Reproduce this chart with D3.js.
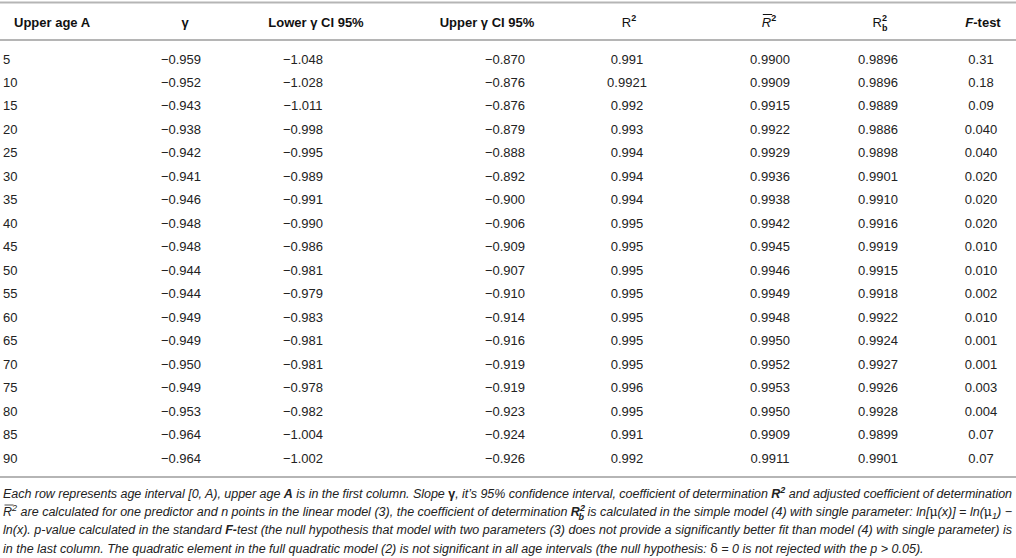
<!DOCTYPE html>
<html>
<head>
<meta charset="utf-8">
<script src="https://cdn.jsdelivr.net/npm/d3@7"></script>
<style>
    html, body { margin: 0; padding: 0; background: #fff; }
    svg { display: block; font-family: "Liberation Sans", Arial, sans-serif; }
</style>
</head>
<body>
<script>
// table values
const ages = [5, 10, 15, 20, 25, 30, 35, 40, 45, 50, 55, 60, 65, 70, 75, 80, 85, 90];
const gamma = [-0.959, -0.952, -0.943, -0.938, -0.942, -0.941, -0.946, -0.948, -0.948,
               -0.944, -0.944, -0.949, -0.949, -0.950, -0.949, -0.953, -0.964, -0.964];
const lowerCI = [-1.048, -1.028, -1.011, -0.998, -0.995, -0.989, -0.991, -0.990, -0.986,
                 -0.981, -0.979, -0.983, -0.981, -0.981, -0.978, -0.982, -1.004, -1.002];
const upperCI = [-0.870, -0.876, -0.876, -0.879, -0.888, -0.892, -0.900, -0.906, -0.909,
                 -0.907, -0.910, -0.914, -0.916, -0.919, -0.919, -0.923, -0.924, -0.926];
// printed with mixed precision, so kept as printed
const r2 = ['0.991', '0.9921', '0.992', '0.993', '0.994', '0.994', '0.994', '0.995', '0.995',
            '0.995', '0.995', '0.995', '0.995', '0.995', '0.996', '0.995', '0.991', '0.992'];
const r2adj = [0.9900, 0.9909, 0.9915, 0.9922, 0.9929, 0.9936, 0.9938, 0.9942, 0.9945,
               0.9946, 0.9949, 0.9948, 0.9950, 0.9952, 0.9953, 0.9950, 0.9909, 0.9911];
const r2b = [0.9896, 0.9896, 0.9889, 0.9886, 0.9898, 0.9901, 0.9910, 0.9916, 0.9919,
             0.9915, 0.9918, 0.9922, 0.9924, 0.9927, 0.9926, 0.9928, 0.9899, 0.9901];
const ftest = ['0.31', '0.18', '0.09', '0.040', '0.040', '0.020', '0.020', '0.020', '0.010',
               '0.010', '0.002', '0.010', '0.001', '0.001', '0.003', '0.004', '0.07', '0.07'];

const W = 1016, H = 558;
const f3 = d3.format('.3f'), f4 = d3.format('.4f');

const svg = d3.select('body').append('svg')
    .attr('width', W)
    .attr('height', H);

const y = d3.scalePoint()
    .domain(ages)
    .range([59, 458]);

// column layout: header x, value x
const columns = [
    { values: ages, fmt: d => d, hx: 14, vx: 3, anchor: 'start' },
    { values: gamma, fmt: f3, hx: 185, vx: 181 },
    { values: lowerCI, fmt: f3, hx: 316, vx: 303 },
    { values: upperCI, fmt: f3, hx: 487, vx: 505 },
    { values: r2, fmt: d => d, hx: 629, vx: 627 },
    { values: r2adj, fmt: f4, hx: 769, vx: 770 },
    { values: r2b, fmt: f4, hx: 880, vx: 878 },
    { values: ftest, fmt: d => d, hx: 983, vx: 981 }
];

// rules
svg.selectAll('line.rule')
    .data([2.5, 40, 477])
    .enter()
    .append('line')
    .attr('class', 'rule')
    .attr('x1', 0)
    .attr('x2', W)
    .attr('y1', d => d)
    .attr('y2', d => d)
    .attr('stroke', '#b5b5b5')
    .attr('stroke-width', 2);

// header
const header = svg.append('g')
    .attr('font-size', 13)
    .attr('font-weight', 'bold')
    .attr('fill', '#111');
const hy = 26.5;

function headText(x, anchor = 'middle') {
    return header.append('text')
        .attr('x', x)
        .attr('y', hy)
        .attr('text-anchor', anchor);
}

headText(columns[0].hx, 'start').text('Upper age A');
headText(columns[1].hx).text('γ');
headText(columns[2].hx).text('Lower γ CI 95%');
headText(columns[3].hx).text('Upper γ CI 95%');

const hR2 = headText(columns[4].hx).attr('font-weight', 'normal');
hR2.append('tspan').text('R');
hR2.append('tspan').attr('dy', -6).attr('font-size', 9).attr('font-weight', 'bold').text('2');

const hR2adj = headText(columns[5].hx).attr('font-weight', 'normal');
hR2adj.append('tspan').attr('font-style', 'italic').text('R');
hR2adj.append('tspan').attr('dy', -6).attr('font-size', 9).attr('font-weight', 'bold').text('2');
{
    const e = hR2adj.node().getExtentOfChar(0);
    header.append('line')
        .attr('x1', e.x + 1).attr('x2', e.x + e.width + 1)
        .attr('y1', hy - 12).attr('y2', hy - 12)
        .attr('stroke', '#111').attr('stroke-width', 1);
}

const hR2b = headText(columns[6].hx).attr('font-weight', 'normal');
hR2b.append('tspan').text('R');
hR2b.append('tspan').attr('dy', -6).attr('font-size', 9).attr('font-weight', 'bold').text('2');
hR2b.append('tspan').attr('dx', -5).attr('dy', 10).attr('font-size', 9).attr('font-weight', 'bold').text('b');

const hF = headText(columns[7].hx);
hF.append('tspan').attr('font-style', 'italic').text('F');
hF.append('tspan').text('-test');

// body cells
const body = svg.append('g')
    .attr('font-size', 13)
    .attr('fill', '#222');

columns.forEach(col => {
    body.append('g')
        .selectAll('text')
        .data(col.values)
        .enter()
        .append('text')
        .attr('x', col.vx)
        .attr('y', (d, i) => y(ages[i]) + 4.5)
        .attr('text-anchor', col.anchor || 'middle')
        .text(col.fmt);
});

// footnote: segments [text, style]
const noteLines = [
    [['Each row represents age interval [0, A), upper age ', ''], ['A', 'b'],
     [' is in the first column. Slope ', ''], ['γ', 'bu'],
     [', it\u2019s 95% confidence interval, coefficient of determination ', ''],
     ['R', 'b'], ['2', 'bsup'], [' and adjusted coefficient of determination', '']],
    [['R', 'over'], ['2', 'sup'],
     [' are calculated for one predictor and n points in the linear model (3), the coefficient of determination ', ''],
     ['R', 'b'], ['2', 'bsup'], ['b', 'bsubstack'],
     [' is calculated in the simple model (4) with single parameter: ln[', ''], ['μ', 'serif'],
     ['(x)] = ln(', ''], ['μ', 'serif'], ['1', 'sub'], [') \u2212', '']],
    [['ln(x). p-value calculated in the standard ', ''], ['F-', 'b'],
     ['test (the null hypothesis that model with two parameters (3) does not provide a significantly better fit than model (4) with single parameter) is', '']],
    [['in the last column. The quadratic element in the full quadratic model (2) is not significant in all age intervals (the null hypothesis: ', ''],
     ['δ', 'serif'], [' = 0 is not rejected with the p > 0.05).', '']]
];
const noteY = [498, 516, 534, 553];

const note = svg.append('g')
    .attr('font-size', 12.5)
    .attr('font-style', 'italic')
    .attr('fill', '#222');

noteLines.forEach((segs, li) => {
    const t = note.append('text')
        .attr('x', 3)
        .attr('y', noteY[li]);
    let shift = 0;
    const overs = [];
    let idx = 0;
    segs.forEach(([txt, st]) => {
        const ts = t.append('tspan').text(txt);
        let target = 0;
        if (st.includes('sup')) target = -5;
        if (st.includes('sub')) target = 3;
        if (st === 'bsubstack') { target = 4; ts.attr('dx', -6.5); }
        if (st.includes('sup') || st.includes('sub')) ts.attr('font-size', 9);
        if (target !== shift) { ts.attr('dy', target - shift); shift = target; }
        if (st.startsWith('b')) ts.attr('font-weight', 'bold');
        if (st === 'bu') ts.attr('font-style', 'normal');
        if (st === 'serif') ts.attr('font-style', 'normal').attr('font-family', '"DejaVu Serif", serif');
        if (st === 'over') overs.push(idx);
        idx += txt.length;
    });
    if (li < 3) t.attr('textLength', 1009).attr('lengthAdjust', 'spacing');
    overs.forEach(k => {
        const e = t.node().getExtentOfChar(k);
        note.append('line')
            .attr('x1', e.x + 1.5).attr('x2', e.x + e.width + 1.5)
            .attr('y1', noteY[li] - 11).attr('y2', noteY[li] - 11)
            .attr('stroke', '#222').attr('stroke-width', 0.8);
    });
});
</script>
</body>
</html>
